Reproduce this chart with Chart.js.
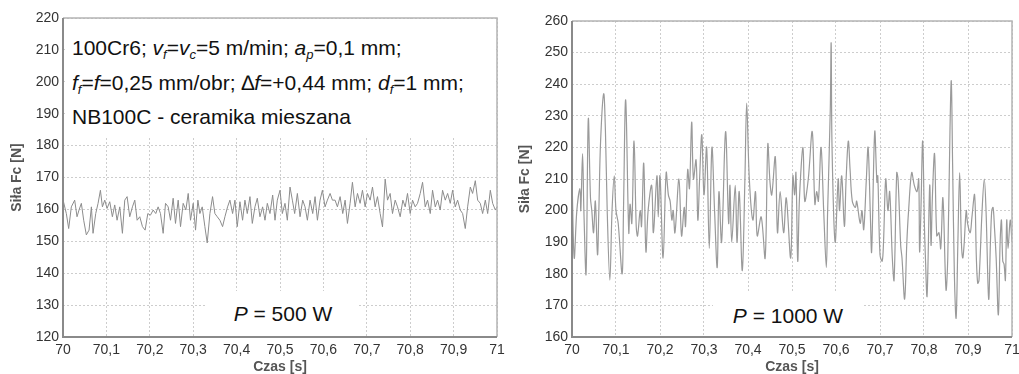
<!DOCTYPE html>
<html><head><meta charset="utf-8">
<script src="https://cdn.jsdelivr.net/npm/chart.js@4.4.1/dist/chart.umd.min.js"></script>
<style>
html,body{margin:0;padding:0;background:#fff;}
#wrap{position:relative;width:1019px;height:374px;overflow:hidden;font-family:"Liberation Sans",Arial,sans-serif;}
canvas{position:absolute;top:0;}
#c1{left:0;} #c2{left:508px;}
.box{position:absolute;background:#fff;}
.note{position:absolute;left:72px;font-size:21px;color:#111;white-space:nowrap;line-height:1;}
.s{font-size:0.62em;vertical-align:-0.28em;font-style:italic;}
.p{position:absolute;font-size:21px;color:#111;white-space:nowrap;transform:translate(-50%,-50%);line-height:1;}
</style></head>
<body><div id="wrap">
<canvas id="c1" width="508" height="374"></canvas>
<canvas id="c2" width="511" height="374"></canvas>
<div class="box" style="left:65px;top:19px;width:431px;height:119px"></div>
<div class="note" style="top:37px">100Cr6; <i>v</i><span class="s">f</span>=<i>v</i><span class="s">c</span>=5 m/min; <i>a</i><span class="s">p</span>=0,1 mm;</div>
<div class="note" style="top:72px"><i>f</i><span class="s">f</span>=<i>f</i>=0,25 mm/obr; ∆<i>f</i>=+0,44 mm; <i>d</i><span class="s">f</span>=1 mm;</div>
<div class="note" style="top:106px">NB100C - ceramika mieszana</div>
<div class="box" style="left:207px;top:291px;width:150px;height:45px"></div>
<div class="p" style="left:283px;top:313px"><i>P</i> = 500 W</div>
<div class="box" style="left:713px;top:293px;width:150px;height:43px"></div>
<div class="p" style="left:788px;top:315px"><i>P</i> = 1000 W</div>
</div>
<script>
const timeTicks = [70,70.1,70.2,70.3,70.4,70.5,70.6,70.7,70.8,70.9,71];
const timeLabels = ['70','70,1','70,2','70,3','70,4','70,5','70,6','70,7','70,8','70,9','71'];
const leftYTicks = [120,130,140,150,160,170,180,190,200,210,220];
const rightYTicks = [160,170,180,190,200,210,220,230,240,250,260];

// P = 500 W : time offset from 70 s [ms], cutting force Fc [N]
const leftMs = [0,7.7,13.1,19.2,26.9,32.3,36.9,42.3,47.7,53.8,
60,65.4,69.2,75.4,80.8,86.2,90.8,96.2,101.5,107.7,
113.8,119.2,124.6,130.8,136.9,142.3,147.7,153.8,160,165.4,
170.8,176.9,183.1,189.2,195.4,201.5,207.7,213.8,219.2,224.6,
230.8,236.2,242.3,247.7,253.8,259.2,265.4,270.8,276.9,283.1,
288.5,293.8,300,305.4,310.8,315.4,320.8,326.9,332.3,338.5,
344.6,350,355.4,361.5,367.7,373.1,379.2,384.6,390.8,396.2,
401.5,407.7,413.8,419.2,424.6,430.8,436.2,442.3,447.7,453.8,
460,465.4,470.8,476.9,483.1,488.5,493.8,500,505.4,511.5,
516.9,523.1,528.5,533.8,540,546.2,552.3,557.7,563.1,569.2,
575.4,580.8,586.2,592.3,597.7,603.8,609.2,615.4,620.8,626.9,
632.3,638.5,644.6,650,655.4,661.5,666.9,673.1,678.5,684.6,
690,696.2,701.5,707.7,713.1,719.2,724.6,730.8,736.2,742.3,
747.7,753.8,759.2,765.4,770.8,776.9,783.1,788.5,793.8,800,
805.4,811.5,816.9,823.1,828.5,834.6,840,846.2,851.5,857.7,
863.1,869.2,874.6,880.8,886.2,892.3,897.7,903.8,909.2,915.4,
920.8,926.9,932.3,938.5,943.8,950,955.4,961.5,966.9,973.1,
978.5,984.6,990,996.2,1000];
const leftForce = [163,158.7,154,160.8,162.9,157.7,159.8,161.9,156.6,152,
153.5,160.8,152.5,158.7,161.9,166,160.8,162.9,160.3,162.4,
157.7,161.4,156.6,160.8,152.5,162.9,164,157.7,160.8,162.9,
156.6,157.7,154.6,153.5,158.7,158.2,159.8,158.7,160.8,158.7,
152.5,161.9,160.8,156.6,163.5,155.6,162.9,154.6,161.9,159.8,
165,156.6,161.9,153.5,162.9,158.7,160.8,154.6,149.5,158.7,
164,158.7,157.7,156.6,154.6,157.7,160.8,162.9,158.7,162.9,
154.6,162.4,156.6,162.9,158.7,164,155.6,160.8,163.5,157.7,
160.8,156.6,161.9,158.7,164.5,156.6,162.9,166,158.7,161.9,
156.6,167,162.9,158.7,165,157.7,162.9,160.8,156.6,162.9,
158.7,164,156.6,162.9,166,160.8,162.9,165,162.9,162.9,
160.8,164,158.7,162.9,155.6,161.9,168.5,160.8,165,161.9,
166,160.8,165,162.9,167,160.8,164,158.7,154.5,169.5,
162.9,165,158.7,162.9,160.8,157.7,162.9,160.8,165,158.7,
162.9,160.8,161.9,165,168.5,160.8,162.9,158.7,166,160.8,
162.9,159.8,166,162.9,165,161.9,166,160.8,162.9,159.8,
158.7,154,160.8,167,165,169,162.9,161.9,158.7,162.9,
158.7,166,161.9,159.8,160.8];

// P = 1000 W
const rightMs = [0,5,11,18,20,24,27,32,37,42,
45,49,53,58,61,65,72,76,80,86,
91,96,100,105,114,117,122,129,132,136,
141,146,149,155,158,163,168,173,181,185,
193,196,200,207,214,219,223,227,230,234,
243,249,255,258,263,267,272,276,282,286,
290,295,300,306,312,318,324,330,334,340,
349,356,359,363,371,375,380,387,393,397,
403,411,417,421,430,439,445,450,454,462,
467,473,481,487,497,502,506,509,513,517,
525,529,537,546,552,556,560,566,572,578,
581,587,589,591,598,605,608,613,619,623,
628,632,637,644,647,655,659,663,669,673,
678,681,688,693,695,700,705,708,713,718,
722,728,732,738,741,747,750,756,761,765,
772,778,784,788,790,793,797,801,803,807,
813,816,819,824,829,834,838,843,850,854,
859,862,865,869,873,877,881,885,888,891,
896,899,905,909,915,919,922,925,932,937,
941,947,951,954,957,960,964,969,973,976,
979,982,985,988,991,996,1000];
const rightForce = [211,185,200,207,200,218,200,180,229,204,
200,193,203,186,200,222,237,225,200,178,
200,211,200,196,180,200,235,193,202,196,
222,195,192,200,195,215,187,200,208,193,
211,198,211,185,212,205,203,197,200,193,
210,192,201,195,213,207,228,210,216,197,
210,224,205,220,188,220,200,182,206,190,
225,196,208,190,208,190,206,181,210,234,
210,197,206,192,198,185,221,209,205,217,
193,206,193,204,185,211,205,212,184,204,
220,203,210,225,202,206,203,220,200,182,
200,232,253,220,190,210,200,211,195,210,
222,213,203,201,203,196,200,194,210,220,
199,187,225,209,211,186,184,190,210,200,
206,185,178,212,210,189,185,172,190,200,
212,208,206,210,187,200,222,195,186,173,
208,189,204,218,192,193,188,204,175,185,
225,241,215,180,166,190,212,190,185,189,
200,196,193,198,205,185,177,178,200,210,
200,172,190,200,201,195,185,167,190,197,
184,183,178,197,188,197,190];

const FONT = '"Liberation Sans", Arial, sans-serif';

const frame = {
  id: 'frame',
  afterDraw(chart) {
    const {ctx, chartArea: a} = chart;
    ctx.save();
    ctx.strokeStyle = '#b4b4b4'; ctx.lineWidth = 1.5;
    ctx.beginPath();
    ctx.moveTo(a.left, a.top); ctx.lineTo(a.right, a.top); ctx.lineTo(a.right, a.bottom);
    ctx.stroke();
    ctx.strokeStyle = '#8a8a8a'; ctx.lineWidth = 2;
    ctx.beginPath();
    ctx.moveTo(a.left, a.top); ctx.lineTo(a.left, a.bottom); ctx.lineTo(a.right, a.bottom);
    ctx.stroke();
    ctx.restore();
  }
};

function makeChart(id, ms, force, yTicks, opt) {
  const pts = ms.map((m, i) => ({x: 70 + m / 1000, y: force[i]}));
  return new Chart(document.getElementById(id), {
    type: 'line',
    data: {datasets: [{data: pts, borderColor: opt.color, borderWidth: opt.width,
      pointRadius: 0, tension: opt.tension, fill: false}]},
    options: {
      responsive: false, animation: false, devicePixelRatio: 1,
      layout: {padding: {left: 0, right: opt.padRight, top: opt.padTop, bottom: 0}},
      plugins: {legend: {display: false}, tooltip: {enabled: false}},
      scales: {
        x: {
          type: 'linear', min: 70, max: 71,
          afterBuildTicks: s => { s.ticks = timeTicks.map(v => ({value: v})); },
          afterFit: s => { s.height = 37; s.paddingLeft = 0; s.paddingRight = 0; },
          ticks: {autoSkip: false, maxRotation: 0, padding: 5, color: '#333',
            font: {family: FONT, size: 14}, callback: (v, i) => timeLabels[i]},
          grid: {color: '#cdcdcd', lineWidth: 1, drawTicks: false},
          border: {display: false, dash: [2, 2]},
          title: {display: true, text: 'Czas [s]', color: '#555',
            font: {family: FONT, size: 14, weight: 'bold', lineHeight: 1}, padding: {top: 0, bottom: 0}}
        },
        y: {
          type: 'linear', min: yTicks[0], max: yTicks[yTicks.length - 1],
          afterBuildTicks: s => { s.ticks = yTicks.map(v => ({value: v})); },
          afterFit: s => { s.width = opt.yWidth; s.paddingTop = 0; s.paddingBottom = 0; },
          ticks: {padding: 4, color: '#333', font: {family: FONT, size: 14}, callback: v => String(v)},
          grid: {color: '#cdcdcd', lineWidth: 1, drawTicks: false},
          border: {display: false, dash: [2, 2]},
          title: {display: true, text: 'Siła Fc [N]', color: '#555',
            font: {family: FONT, size: 14, weight: 'bold', lineHeight: 1}, padding: {top: 10, bottom: 0}}
        }
      }
    },
    plugins: [frame]
  });
}

makeChart('c1', leftMs, leftForce, leftYTicks,
  {color: '#8c8c8c', width: 1, tension: 0, padRight: 11, padTop: 18, yWidth: 63});
makeChart('c2', rightMs, rightForce, rightYTicks,
  {color: '#9a9a9a', width: 1.2, tension: 0.35, padRight: 7, padTop: 21, yWidth: 64});
</script>
</body></html>
